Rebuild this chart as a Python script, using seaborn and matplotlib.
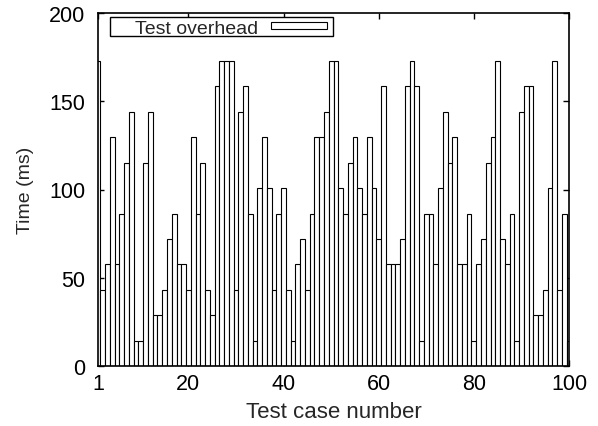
import matplotlib
matplotlib.use("Agg")
import matplotlib.pyplot as plt
import seaborn as sns
import pandas as pd
from matplotlib.patches import Rectangle

test_case = list(range(1, 101))
overhead_ms = [
    172.8, 43.2, 57.6, 129.6, 57.6, 86.4, 115.2, 144.0, 14.4, 14.4,
    115.2, 144.0, 28.8, 28.8, 43.2, 72.0, 86.4, 57.6, 57.6, 43.2,
    129.6, 86.4, 115.2, 43.2, 28.8, 158.4, 172.8, 172.8, 172.8, 43.2,
    144.0, 158.4, 86.4, 14.4, 100.8, 129.6, 100.8, 43.2, 86.4, 100.8,
    43.2, 14.4, 57.6, 72.0, 43.2, 86.4, 129.6, 129.6, 144.0, 172.8,
    172.8, 100.8, 86.4, 115.2, 129.6, 100.8, 86.4, 129.6, 100.8, 72.0,
    158.4, 57.6, 57.6, 57.6, 72.0, 158.4, 172.8, 158.4, 14.4, 86.4,
    86.4, 57.6, 100.8, 144.0, 115.2, 129.6, 57.6, 57.6, 86.4, 14.4,
    57.6, 72.0, 115.2, 129.6, 172.8, 72.0, 57.6, 86.4, 14.4, 144.0,
    158.4, 158.4, 28.8, 28.8, 43.2, 100.8, 172.8, 43.2, 86.4, 14.4,
]
x_ticks = [1, 20, 40, 60, 80, 100]
y_ticks = [0, 50, 100, 150, 200]
series_label = "Test overhead"

df = pd.DataFrame({"case": test_case, "ms": overhead_ms})

sns.set_style("ticks")
plt.rcParams["font.family"] = ["Liberation Sans", "DejaVu Sans"]

fig = plt.figure(figsize=(5.98, 4.27), dpi=100)
ax = fig.add_axes([98 / 598, 1 - 367 / 427, 471 / 598, 353 / 427])

sns.barplot(data=df, x="case", y="ms", native_scale=True, width=1.0,
            color="white", edgecolor="black", linewidth=0.8, ax=ax,
            errorbar=None, saturation=1)

ax.set_xlim(1, 100)
ax.set_ylim(0, 200)
ax.set_xticks(x_ticks)
ax.set_yticks(y_ticks)
ax.tick_params(direction="in", top=True, right=True, length=4, width=1.0,
               labelsize=15.5, colors="black")
ax.tick_params(axis="y", pad=9)
ax.tick_params(axis="x", pad=5)
for s in ax.spines.values():
    s.set_visible(True)
    s.set_linewidth(1.2)
    s.set_color("black")

ax.set_xlabel("Test case number", fontsize=16, labelpad=5)
ax.set_ylabel("Time (ms)", fontsize=14, labelpad=11)

# gnuplot-style key: right-justified text followed by a sample box, framed
ax.add_patch(Rectangle((0.0255, 0.9348), 0.4734, 0.0539, transform=ax.transAxes,
                       facecolor="white", edgecolor="black", linewidth=1.0,
                       zorder=5, clip_on=False))
ax.text(0.3397, 0.9435, series_label, transform=ax.transAxes, ha="right",
        va="baseline", fontsize=14, zorder=6)
ax.add_patch(Rectangle((0.3673, 0.9547), 0.1189, 0.0198, transform=ax.transAxes,
                       facecolor="white", edgecolor="black", linewidth=0.8,
                       zorder=6, clip_on=False))

fig.savefig("out.png", dpi=100)
